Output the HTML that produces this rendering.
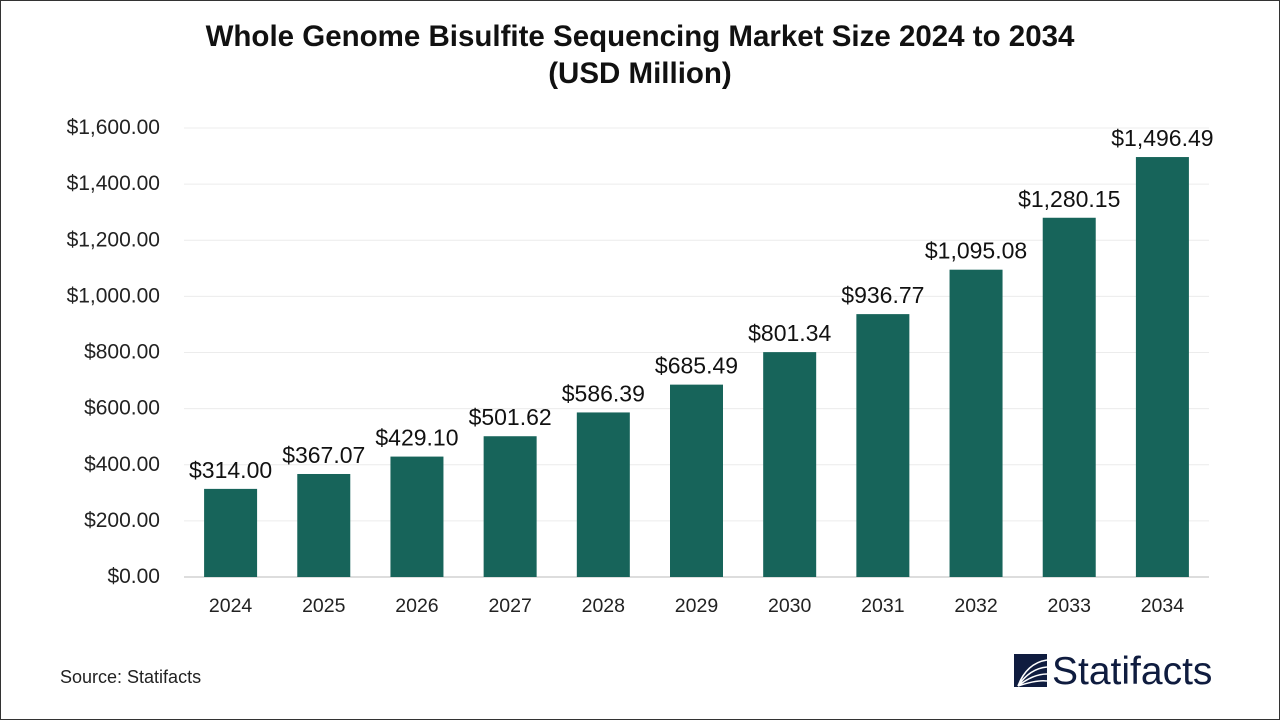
<!DOCTYPE html>
<html><head><meta charset="utf-8"><style>
html,body{margin:0;padding:0;background:#fff}
body{width:1280px;height:720px;position:relative;overflow:hidden;font-family:"Liberation Sans",sans-serif}
#frame{position:absolute;left:0;top:0;width:1278px;height:718px;border:1px solid #333}
</style></head><body>
<div id="frame"></div>
<svg id="chart" width="1280" height="720" style="position:absolute;left:0;top:0">
<text x="640" y="46" text-anchor="middle" font-size="29.5" font-weight="bold" fill="#111">Whole Genome Bisulfite Sequencing Market Size 2024 to 2034</text>
<text x="640" y="83" text-anchor="middle" font-size="29.5" font-weight="bold" fill="#111">(USD Million)</text>
<g id="grid"></g><g id="bars"></g><g id="labels"></g>
<text x="60" y="683" font-size="18" fill="#222">Source: Statifacts</text>
<g>
<rect x="1014" y="654" width="33" height="33" fill="#0f1c3f"/>
<path d="M1018 686 C1024 670,1034 662,1047 660 M1018 686 C1026 674,1036 668,1047 667 M1018 686 C1028 678,1038 674,1047 674 M1018 686 C1030 682,1040 680,1047 681" stroke="#fff" stroke-width="1.6" fill="none"/>
<text x="1052" y="684" font-size="39" fill="#0f1c3f">Statifacts</text>
</g>
</svg>
<script>
const categories=["2024","2025","2026","2027","2028","2029","2030","2031","2032","2033","2034"];
const values=[314.00,367.07,429.10,501.62,586.39,685.49,801.34,936.77,1095.08,1280.15,1496.49];
const yTicks=[0,200,400,600,800,1000,1200,1400,1600];
const NS="http://www.w3.org/2000/svg";
const x0=184,x1=1209,yBase=577,yTop=128,yMax=1600;
const band=(x1-x0)/categories.length;
const y=v=>yBase-(v/yMax)*(yBase-yTop);
const xc=i=>x0+band*(i+0.5);
const fmt=v=>"$"+v.toLocaleString("en-US",{minimumFractionDigits:2,maximumFractionDigits:2});
function mk(t,a,txt){const e=document.createElementNS(NS,t);for(const k in a)e.setAttribute(k,a[k]);if(txt!==undefined)e.textContent=txt;return e;}
const grid=document.getElementById("grid"),bars=document.getElementById("bars"),labels=document.getElementById("labels");
yTicks.forEach(t=>{
 const l=mk("line",{x1:x0,x2:x1,y1:y(t),y2:y(t),stroke:t===0?"#bbb":"#ececec","stroke-width":1});
 
 
 grid.appendChild(l);
 const tx=mk("text",{x:160,y:y(t)+6,"text-anchor":"end","font-size":21,fill:"#222"},fmt(t));
 
 
 grid.appendChild(tx);
});
const bw=53;
categories.forEach((c,i)=>{
 const v=values[i];
 const r=mk("rect",{x:xc(i)-bw/2,y:y(v),width:bw,height:yBase-y(v),fill:"#17645a"});
 
 
 bars.appendChild(r);
 const vl=mk("text",{x:xc(i),y:y(v)-11,"text-anchor":"middle","font-size":23,fill:"#111"},fmt(v));
 
 
 labels.appendChild(vl);
 const xl=mk("text",{x:xc(i),y:612,"text-anchor":"middle","font-size":19.5,fill:"#222"},c);
 
 
 labels.appendChild(xl);
});
</script>
</body></html>
